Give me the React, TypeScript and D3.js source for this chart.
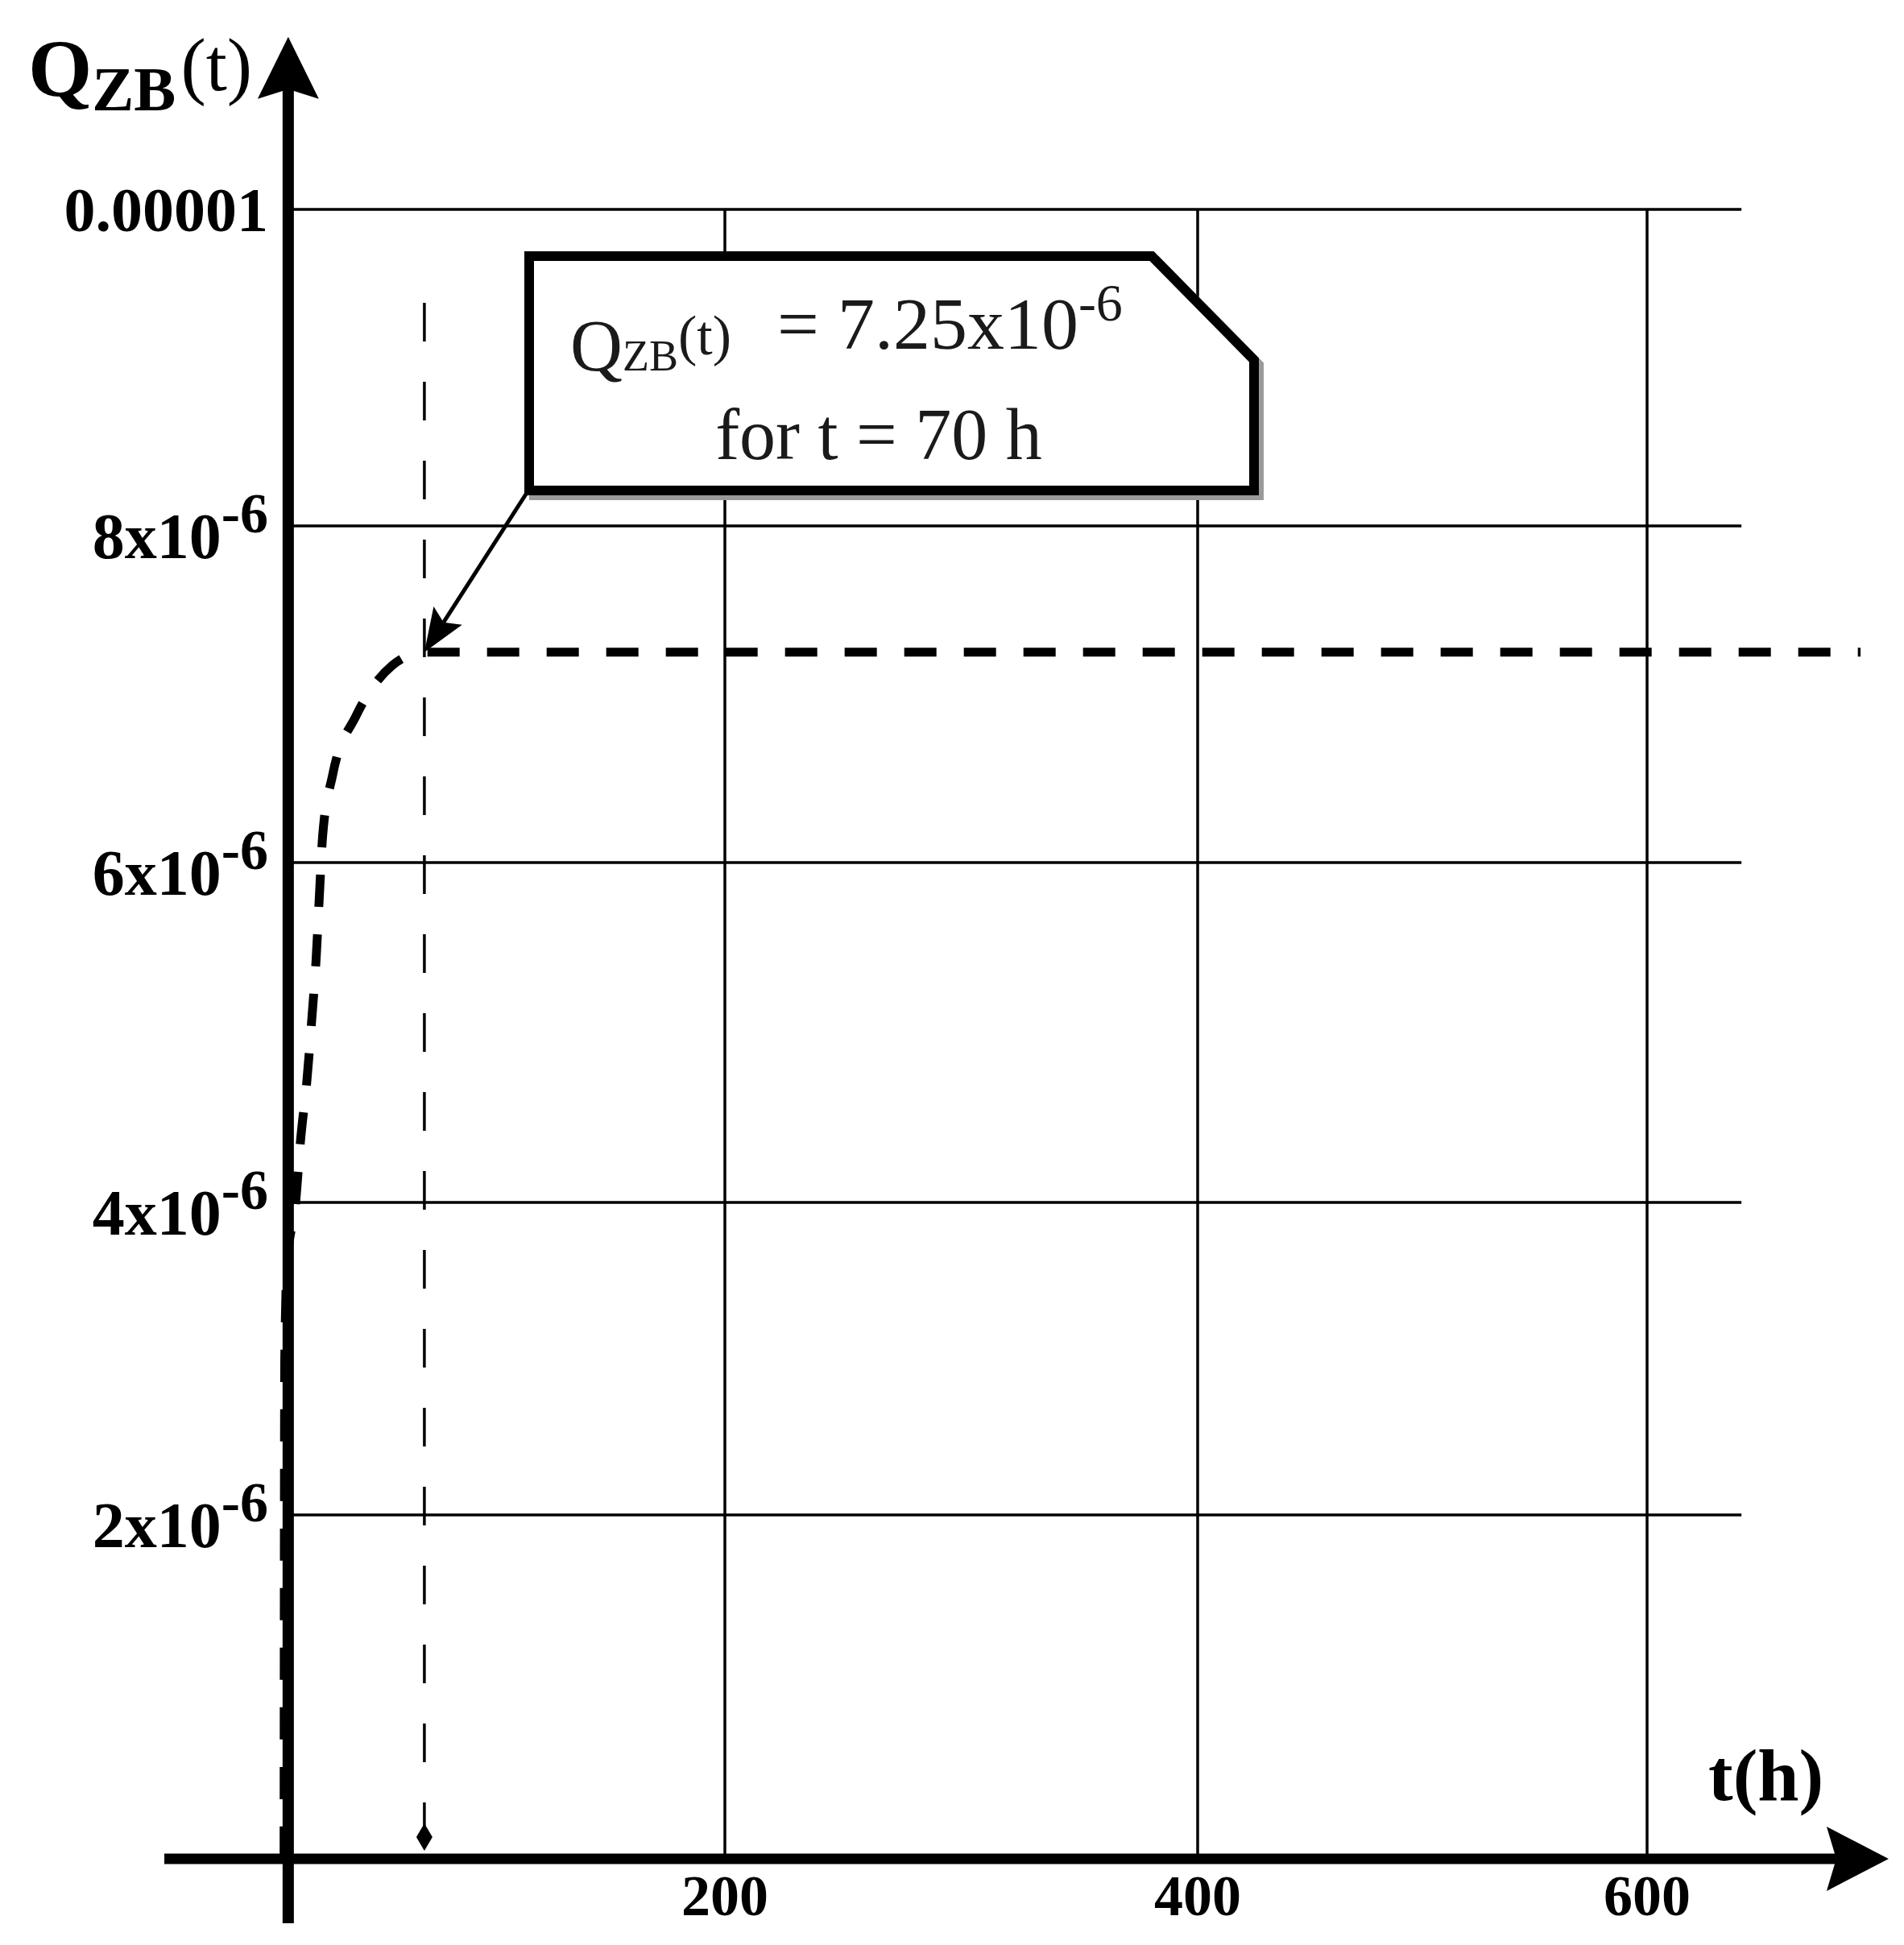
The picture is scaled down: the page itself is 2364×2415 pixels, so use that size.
import React from "react";
import * as d3 from "d3";

// tick values and labels
const xTicks = [200, 400, 600];
const yTicks = [2e-6, 4e-6, 6e-6, 8e-6, 1e-5];
const yTickMain = ["2x10", "4x10", "6x10", "8x10", "0.00001"];
const yTickExp = ["-6", "-6", "-6", "-6", ""];

// Q_ZB(t) curve (t in hours)
const curveT = [9.3, 9.4, 9.6, 10.6, 14.3, 16.4, 19.2, 21.3, 23.2, 24.6, 26, 30.3, 40.4, 56, 70, 695];
const curveQ = [
  0, 1.5e-6, 3.0e-6, 3.6e-6, 4.0e-6, 4.36e-6, 4.72e-6, 5.08e-6, 5.44e-6, 5.81e-6,
  6.16e-6, 6.52e-6, 6.87e-6, 7.17e-6, 7.25e-6, 7.25e-6,
];

// marked point
const markT = 70;
const markQ = 7.25e-6;

const W = 2364;
const H = 2415;
const FONT = "'Liberation Serif', 'Times New Roman', serif";

export default function App() {
  // the original axes are not evenly spaced, so both scales are piecewise
  const x = d3.scaleLinear().domain([0, 200, 400, 600]).range([326, 900, 1487, 2045]);
  const y = d3
    .scaleLinear()
    .domain([0, 2e-6, 4e-6, 6e-6, 8e-6, 1e-5])
    .range([2308, 1881, 1493, 1071, 653, 260]);

  const yAxisX = x(11.1);
  const xAxisY = y(0);
  const gridEnd = x(642);
  const gridTop = y(1e-5);

  const line = d3
    .line<number>()
    .x((_, i) => x(curveT[i]))
    .y((d) => y(d))
    .curve(d3.curveMonotoneX);

  const mx = x(markT);
  const my = y(markQ);

  // callout box (layout)
  const bx0 = 657, by0 = 318, bx1 = 1557, by1 = 609, cutX = 1430, cutY = 447;
  const boxPts = `${bx0},${by0} ${cutX},${by0} ${bx1},${cutY} ${bx1},${by1} ${bx0},${by1}`;
  const shadowPts = `${bx0 + 6},${by0 + 6} ${cutX + 6},${by0 + 6} ${bx1 + 6},${cutY + 6} ${bx1 + 6},${by1 + 6} ${bx0 + 6},${by1 + 6}`;

  // annotation arrow from box corner to the marked point
  const ax0 = bx0 - 3, ay0 = by1 + 3;
  const dx = mx - ax0, dy = my - ay0;
  const len = Math.hypot(dx, dy);
  const ux = dx / len, uy = dy / len;
  const headL = 54, headW = 21;
  const baseX = mx - ux * headL, baseY = my - uy * headL;
  const notchX = mx - ux * (headL - 10), notchY = my - uy * (headL - 10);
  const head = `M${mx},${my} L${baseX - uy * headW},${baseY + ux * headW} L${notchX},${notchY} L${baseX + uy * headW},${baseY - ux * headW} Z`;

  const yTop = y(1.109e-5);
  const yBottom = y(-0.375e-6);
  const xLeft = x(-42.5);
  const xRight = x(707.5);

  return (
    <div style={{ position: "absolute", left: 0, top: 0 }}>
      <svg width={W} height={H} style={{ display: "block", background: "#fff" }} fontFamily={FONT}>
        {/* grid */}
        <g stroke="#000" strokeWidth={3.5}>
          {yTicks.map((v) => (
            <line key={"h" + v} x1={yAxisX} x2={gridEnd} y1={y(v)} y2={y(v)} />
          ))}
          {xTicks.map((v) => (
            <line key={"v" + v} x1={x(v)} x2={x(v)} y1={gridTop} y2={xAxisY} />
          ))}
        </g>

        {/* t = 70 h marker */}
        <line x1={mx} x2={mx} y1={376} y2={xAxisY - 40} stroke="#000" strokeWidth={3.5} strokeDasharray="48 50" />
        <path d={`M${mx},${xAxisY - 44} L${mx + 10},${xAxisY - 27} L${mx},${xAxisY - 10} L${mx - 10},${xAxisY - 27} Z`} fill="#000" />

        {/* curve */}
        <path d={line(curveQ) || ""} fill="none" stroke="#000" strokeWidth={11} strokeDasharray="40 34" />

        {/* axes */}
        <line x1={yAxisX} x2={yAxisX} y1={yBottom} y2={yTop + 65} stroke="#000" strokeWidth={14} />
        <path d={`M${yAxisX},${yTop} L${yAxisX + 38},${yTop + 77} L${yAxisX},${yTop + 65} L${yAxisX - 38},${yTop + 77} Z`} fill="#000" />
        <line x1={xLeft} x2={xRight - 65} y1={xAxisY} y2={xAxisY} stroke="#000" strokeWidth={13} />
        <path d={`M${xRight},${xAxisY} L${xRight - 77},${xAxisY - 40} L${xRight - 65},${xAxisY} L${xRight - 77},${xAxisY + 40} Z`} fill="#000" />

        {/* y tick labels */}
        {yTicks.map((v, i) => (
          <text key={"yl" + v} x={333} y={y(v) + (yTickExp[i] ? 40 : 27)} textAnchor="end" fontWeight="bold" fontSize={yTickExp[i] ? 80 : 78} fill="#000">
            {yTickMain[i]}
            {yTickExp[i] && (
              <tspan fontSize={70} dy={-32}>
                {yTickExp[i]}
              </tspan>
            )}
          </text>
        ))}

        {/* x tick labels */}
        {xTicks.map((v) => (
          <text key={"xl" + v} x={x(v)} y={2378} textAnchor="middle" fontWeight="bold" fontSize={72} fill="#000">
            {v}
          </text>
        ))}

        {/* axis titles */}
        <text x={35} y={120} fontWeight="bold" fill="#000">
          <tspan fontSize={102}>Q</tspan>
          <tspan fontSize={78} dy={17}>ZB</tspan>
          <tspan fontSize={94} fontWeight="normal" dx={6} dy={-25}>(t)</tspan>
        </text>
        <text x={2121} y={2235} fontWeight="bold" fontSize={92} fill="#000">
          t(h)
        </text>

        {/* callout */}
        <polygon points={shadowPts} fill="none" stroke="#9a9a9a" strokeWidth={12} strokeLinejoin="miter" />
        <polygon points={boxPts} fill="#fff" stroke="#000" strokeWidth={12} strokeLinejoin="miter" />
        <text x={708} y={460} fill="#1a1a1a">
          <tspan fontSize={90}>Q</tspan>
          <tspan fontSize={54}>ZB</tspan>
          <tspan fontSize={70} dy={-20}>(t)</tspan>
          <tspan fontSize={92} x={965} dy={-7}>= 7.25x10</tspan>
          <tspan fontSize={66} dy={-35}>-6</tspan>
        </text>
        <text x={1091} y={570} textAnchor="middle" fontSize={90} fill="#1a1a1a">
          for t = 70 h
        </text>

        {/* annotation arrow */}
        <line x1={ax0} y1={ay0} x2={notchX} y2={notchY} stroke="#000" strokeWidth={5} />
        <path d={head} fill="#000" />
      </svg>
    </div>
  );
}
